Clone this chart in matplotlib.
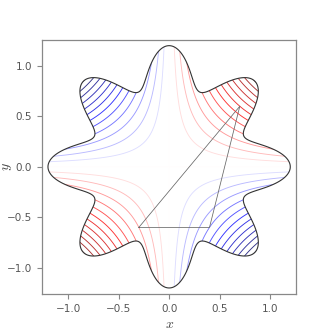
# contours of f(x, y) = x*y clipped to a flower shaped domain, with a triangle on top

import numpy as np
import matplotlib
matplotlib.use("Agg")
import matplotlib.pyplot as plt
from matplotlib.patches import Polygon

plt.rcParams['mathtext.fontset'] = 'cm'

## domain boundary  r(theta) = r0 + amp*cos(n_petals*theta)
r0 = 1.0
amp = 0.2
n_petals = 8

## triangle vertices
tri_x = [-0.3, 0.4, 0.7]
tri_y = [-0.6, -0.6, 0.6]

n_levels = 25
ticks = [-1.0, -0.5, 0.0, 0.5, 1.0]

theta = np.linspace(0, 2 * np.pi, 721)
r = r0 + amp * np.cos(n_petals * theta)
bx = r * np.cos(theta)
by = r * np.sin(theta)

xs = np.linspace(-1.3, 1.3, 500)
X, Y = np.meshgrid(xs, xs)
F = X * Y
vmax = np.max(np.abs(bx * by))
levels = np.linspace(-vmax, vmax, n_levels)

fig = plt.figure(figsize=(3.3, 3.3), dpi=100)
ax = fig.add_axes([0.127, 0.109, 0.771, 0.771])

clip = Polygon(np.column_stack([bx, by]), closed=True, fill=False,
               edgecolor='#333333', linewidth=0.8, zorder=3)
ax.add_patch(clip)

cs = ax.contour(X, Y, F, levels=levels, cmap='seismic', vmin=-vmax, vmax=vmax,
                linewidths=0.65, alpha=0.8)
cs.set_clip_path(clip)

ax.plot(tri_x + tri_x[:1], tri_y + tri_y[:1], color='#666666', lw=0.55, zorder=4)

ax.set_aspect('equal')
ax.set_xlim(-1.26, 1.26)
ax.set_ylim(-1.26, 1.26)
ax.set_xticks(ticks)
ax.set_yticks(ticks)
ax.tick_params(colors='#888888', labelcolor='#555555', labelsize=7.5, length=3.5, width=0.8)
for s in ax.spines.values():
    s.set_color('#888888')
    s.set_linewidth(0.9)
ax.set_xlabel('$x$', fontsize=10, color='#444444', labelpad=2)
ax.set_ylabel('$y$', fontsize=10, color='#444444')
ax.yaxis.set_label_coords(-0.11, 0.5)

plt.savefig('out.png', dpi=100)
